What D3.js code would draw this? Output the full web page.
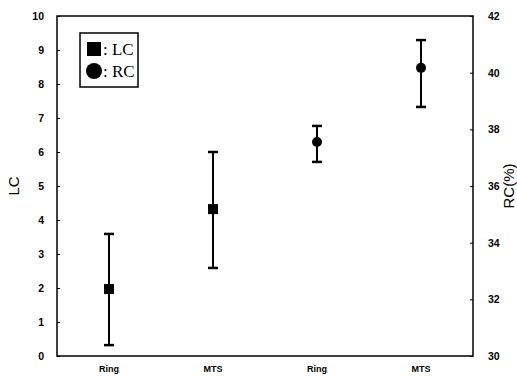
<!DOCTYPE html>
<html>
<head>
<meta charset="utf-8">
<script src="https://cdn.jsdelivr.net/npm/d3@7"></script>
<style>
  body { margin: 0; background: #fff; }
  .tick text { font-family: "Liberation Sans", Arial, sans-serif; font-weight: bold; font-size: 10.5px; }
</style>
</head>
<body>
<div class="chart"></div>
<script>
// data
var categories = ["Ring", "MTS", "Ring", "MTS"];
var lcMean = [1.97, 4.32];
var lcLow = [0.32, 2.59];
var lcHigh = [3.59, 6.0];
var rcMean = [37.55, 40.17];
var rcLow = [36.85, 38.79];
var rcHigh = [38.12, 41.15];
var lcTicks = [0, 1, 2, 3, 4, 5, 6, 7, 8, 9, 10];
var rcTicks = [30, 32, 34, 36, 38, 40, 42];

var svgWidth = 517;
var svgHeight = 376;
var margin = { top: 16, right: 44, bottom: 20, left: 57 };
var width = svgWidth - margin.left - margin.right;
var height = svgHeight - margin.top - margin.bottom;

var svg = d3.select(".chart")
    .append("svg")
    .attr("width", svgWidth)
    .attr("height", svgHeight)
    .append("g")
    .attr("transform", `translate(${margin.left},${margin.top})`);

var xScale = d3.scalePoint().domain(d3.range(categories.length)).range([0, width]).padding(0.5);
var yLeft = d3.scaleLinear().domain([0, 10]).range([height, 0]);
var yRight = d3.scaleLinear().domain([30, 42]).range([height, 0]);

// frame
svg.append("path")
    .attr("d", `M0,0H${width}V${height}H0Z`)
    .attr("fill", "none")
    .attr("stroke", "#000")
    .attr("stroke-width", 1.5);

// left axis, ticks inward
var leftAxis = svg.append("g")
    .call(d3.axisLeft(yLeft).tickValues(lcTicks).tickSizeInner(-3).tickSizeOuter(0).tickPadding(13));
leftAxis.select(".domain").remove();

// right axis, ticks inward
var rightAxis = svg.append("g")
    .attr("transform", `translate(${width},0)`)
    .call(d3.axisRight(yRight).tickValues(rcTicks).tickSizeInner(-3).tickSizeOuter(0).tickPadding(15));
rightAxis.select(".domain").remove();

// bottom category labels
svg.selectAll(".xlab")
    .data(categories)
    .enter()
    .append("text")
    .attr("class", "xlab")
    .attr("x", function (d, i) { return xScale(i); })
    .attr("y", height + 16)
    .attr("text-anchor", "middle")
    .attr("font-family", "Liberation Sans, Arial, sans-serif")
    .attr("font-weight", "bold")
    .attr("font-size", "9px")
    .text(function (d) { return d; });

// axis titles
svg.append("text")
    .attr("transform", `translate(${-38},${height / 2}) rotate(-90)`)
    .attr("text-anchor", "middle")
    .attr("font-family", "Liberation Sans, Arial, sans-serif")
    .attr("font-size", "15px")
    .text("LC");

svg.append("text")
    .attr("transform", `translate(${width + 41},${height / 2}) rotate(-90)`)
    .attr("text-anchor", "middle")
    .attr("font-family", "Liberation Sans, Arial, sans-serif")
    .attr("font-size", "15px")
    .text("RC(%)");

// error bars helper
function errorBars(idx, low, high, yScale) {
    var g = svg.append("g");
    idx.forEach(function (xi, k) {
        var x = xScale(xi);
        g.append("line")
            .attr("x1", x).attr("x2", x)
            .attr("y1", yScale(low[k])).attr("y2", yScale(high[k]))
            .attr("stroke", "#000").attr("stroke-width", 2);
        [low[k], high[k]].forEach(function (v) {
            g.append("line")
                .attr("x1", x - 5).attr("x2", x + 5)
                .attr("y1", yScale(v)).attr("y2", yScale(v))
                .attr("stroke", "#000").attr("stroke-width", 2.5);
        });
    });
}

errorBars([0, 1], lcLow, lcHigh, yLeft);
errorBars([2, 3], rcLow, rcHigh, yRight);

// LC squares
svg.selectAll(".lc")
    .data(lcMean)
    .enter()
    .append("rect")
    .attr("x", function (d, i) { return xScale(i) - 5; })
    .attr("y", function (d) { return yLeft(d) - 5; })
    .attr("width", 10)
    .attr("height", 10)
    .attr("fill", "#000");

// RC circles
svg.selectAll(".rc")
    .data(rcMean)
    .enter()
    .append("circle")
    .attr("cx", function (d, i) { return xScale(i + 2); })
    .attr("cy", function (d) { return yRight(d); })
    .attr("r", 5)
    .attr("fill", "#000");

// legend
var legend = svg.append("g").attr("transform", "translate(23,17)");
legend.append("rect")
    .attr("width", 58).attr("height", 54)
    .attr("fill", "#fff").attr("stroke", "#000").attr("stroke-width", 1.5);
legend.append("rect")
    .attr("x", 7).attr("y", 9).attr("width", 14).attr("height", 14)
    .attr("fill", "#000");
legend.append("circle")
    .attr("cx", 14).attr("cy", 38).attr("r", 8)
    .attr("fill", "#000");
legend.append("text")
    .attr("x", 23).attr("y", 22)
    .attr("font-family", "Liberation Serif, Times New Roman, serif")
    .attr("font-size", "17px")
    .text(": LC");
legend.append("text")
    .attr("x", 23).attr("y", 44)
    .attr("font-family", "Liberation Serif, Times New Roman, serif")
    .attr("font-size", "17px")
    .text(": RC");
</script>
</body>
</html>
